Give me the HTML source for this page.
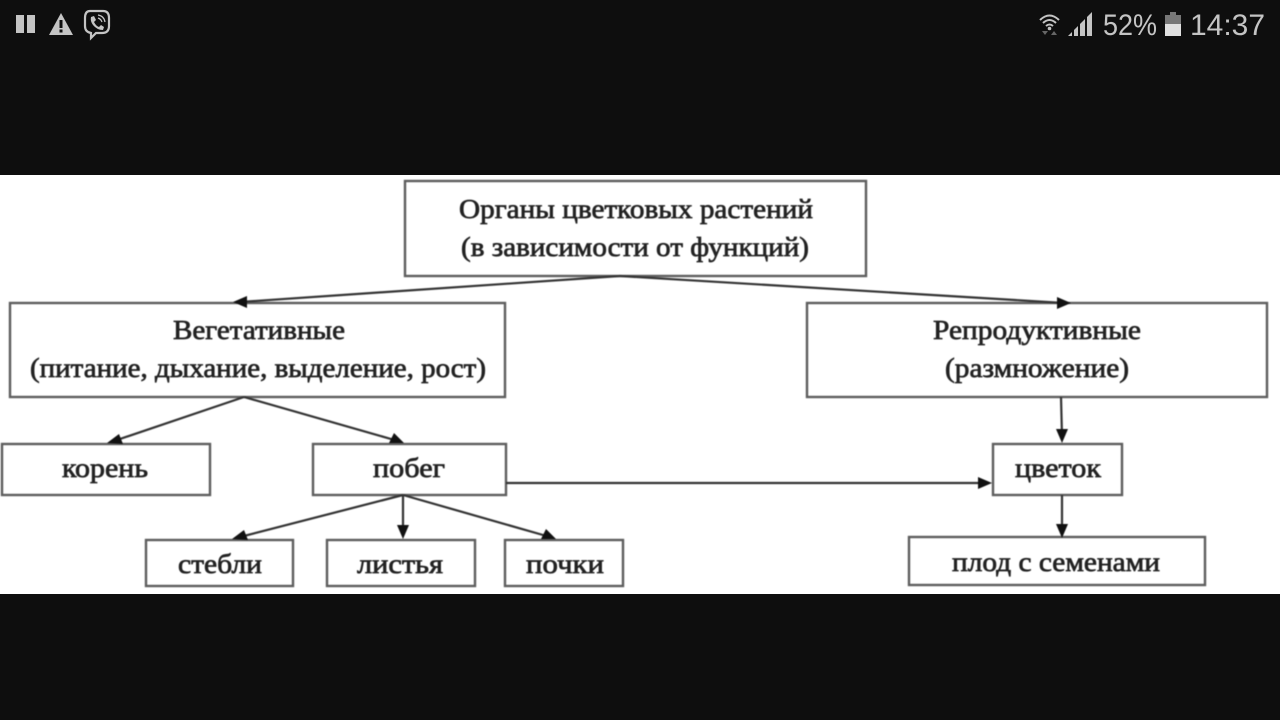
<!DOCTYPE html>
<html lang="ru">
<head>
<meta charset="utf-8">
<style>
html,body{margin:0;padding:0;width:1280px;height:720px;overflow:hidden;background:#0e0e0e}
svg{display:block}
text{font-family:"Liberation Serif",serif;fill:#222;text-anchor:middle;font-size:27px;stroke:#222;stroke-width:.7px}
.st{font-family:"Liberation Sans",sans-serif;fill:#c4c4c4;stroke:none;text-anchor:start;font-size:30px}
rect.b{fill:#fff;stroke:#5e5e5e;stroke-width:2.4}
line{stroke:#333;stroke-width:2.2}
polygon.a{fill:#111}
.blur{filter:blur(.65px)}
</style>
</head>
<body>
<svg width="1280" height="720" viewBox="0 0 1280 720" xmlns="http://www.w3.org/2000/svg">
<rect width="1280" height="720" fill="#0e0e0e"/>
<rect x="0" y="175" width="1280" height="419" fill="#fff"/>

<!-- status bar left -->
<rect x="16" y="15" width="8" height="18" fill="#c4c4c4"/>
<rect x="27" y="15" width="8" height="18" fill="#c4c4c4"/>
<polygon points="61,13 73,35 49,35" fill="#c4c4c4"/>
<rect x="59.5" y="20" width="3" height="8" fill="#0e0e0e"/>
<rect x="59.5" y="29.5" width="3" height="3" fill="#0e0e0e"/>
<path d="M90 11 H103 Q109 11 109 18 V26 Q109 33 102 33 H96 L91 38 V33 Q85 32 85 26 V18 Q85 11 90 11 Z" fill="none" stroke="#c4c4c4" stroke-width="2.2"/>
<path d="M91 17 L94 16 L96 20 L94 22 Q96 26 99 27 L101 25 L104 27 L103 30 Q97 30 93 25 Q90 21 91 17 Z" fill="#c4c4c4"/>
<path d="M98 15 Q104 16 105 22 M98 18 Q101 19 102 22" fill="none" stroke="#c4c4c4" stroke-width="1.2"/>

<!-- status bar right -->
<path d="M1040 20 Q1049.500 11 1059 20 M1043 23 Q1049.500 17 1056 23 M1046 26 Q1049.500 23 1053 26" fill="none" stroke="#c4c4c4" stroke-width="2"/>
<circle cx="1049.500" cy="28.500" r="1.800" fill="#c4c4c4"/>
<polygon points="1045,31 1048,35 1042,35" fill="#666" transform="rotate(180 1045 33)"/>
<polygon points="1054,31 1057,35 1051,35" fill="#666"/>
<polygon points="1068,36 1072,32 1072,36" fill="#c4c4c4"/>
<polygon points="1074,30 1078,26 1078,36 1074,36" fill="#c4c4c4"/>
<polygon points="1080,24 1085,19 1085,36 1080,36" fill="#c4c4c4"/>
<polygon points="1087,17 1092,12 1092,36 1087,36" fill="#c4c4c4"/>
<text class="st" x="1103" y="35" textLength="54" lengthAdjust="spacingAndGlyphs">52%</text>
<rect x="1165" y="15" width="16" height="21" fill="#e0e0e0"/>
<rect x="1165" y="15" width="16" height="9" fill="#777"/>
<rect x="1170" y="12" width="6" height="3" fill="#777"/>
<text class="st" x="1190" y="35" textLength="75" lengthAdjust="spacingAndGlyphs">14:37</text>

<g class="blur">
<!-- boxes -->
<rect class="b" x="405" y="181" width="461" height="95"/>
<rect class="b" x="10" y="303" width="495" height="94"/>
<rect class="b" x="807" y="303" width="460" height="94"/>
<rect class="b" x="2" y="444" width="208" height="51"/>
<rect class="b" x="313" y="444" width="193" height="51"/>
<rect class="b" x="993" y="444" width="129" height="51"/>
<rect class="b" x="146" y="540" width="147" height="46"/>
<rect class="b" x="327" y="540" width="148" height="46"/>
<rect class="b" x="505" y="540" width="118" height="46"/>
<rect class="b" x="909" y="537" width="296" height="48"/>

<!-- connectors -->
<line x1="620" y1="276" x2="240" y2="302"/>
<line x1="620" y1="276" x2="1064" y2="303"/>
<line x1="244" y1="397" x2="114" y2="441"/>
<line x1="244" y1="397" x2="398" y2="441"/>
<line x1="1061" y1="397" x2="1062" y2="436"/>
<line x1="506" y1="483" x2="982" y2="483"/>
<line x1="1062" y1="495" x2="1062" y2="532"/>
<line x1="403" y1="495" x2="240" y2="537"/>
<line x1="403" y1="495" x2="403" y2="532"/>
<line x1="403" y1="495" x2="550" y2="537"/>

<!-- arrowheads -->
<polygon class="a" points="233,302 247,296 247,308"/>
<polygon class="a" points="1071,303 1057,297 1057,309"/>
<polygon class="a" points="107,443 119,434 123,444"/>
<polygon class="a" points="404,443 389,443 394,433"/>
<polygon class="a" points="1062,443 1056,429 1068,429"/>
<polygon class="a" points="992,483 978,477 978,489"/>
<polygon class="a" points="1062,538 1056,524 1068,524"/>
<polygon class="a" points="232,539 244,530 248,540"/>
<polygon class="a" points="403,539 397,525 409,525"/>
<polygon class="a" points="556,539 541,539 546,529"/>

<!-- labels -->
<text x="636" y="218" textLength="354" lengthAdjust="spacingAndGlyphs">Органы цветковых растений</text>
<text x="635" y="256" textLength="348" lengthAdjust="spacingAndGlyphs">(в зависимости от функций)</text>
<text x="259" y="339" textLength="172" lengthAdjust="spacingAndGlyphs">Вегетативные</text>
<text x="258" y="377" textLength="456" lengthAdjust="spacingAndGlyphs">(питание, дыхание, выделение, рост)</text>
<text x="1037" y="339" textLength="208" lengthAdjust="spacingAndGlyphs">Репродуктивные</text>
<text x="1037" y="377" textLength="184" lengthAdjust="spacingAndGlyphs">(размножение)</text>
<text x="105" y="477" textLength="86" lengthAdjust="spacingAndGlyphs">корень</text>
<text x="409" y="477" textLength="72" lengthAdjust="spacingAndGlyphs">побег</text>
<text x="1058" y="477" textLength="86" lengthAdjust="spacingAndGlyphs">цветок</text>
<text x="220" y="573" textLength="84" lengthAdjust="spacingAndGlyphs">стебли</text>
<text x="400" y="573" textLength="86" lengthAdjust="spacingAndGlyphs">листья</text>
<text x="565" y="573" textLength="78" lengthAdjust="spacingAndGlyphs">почки</text>
<text x="1056" y="571" textLength="208" lengthAdjust="spacingAndGlyphs">плод с семенами</text>
</g>
</svg>
</body>
</html>
